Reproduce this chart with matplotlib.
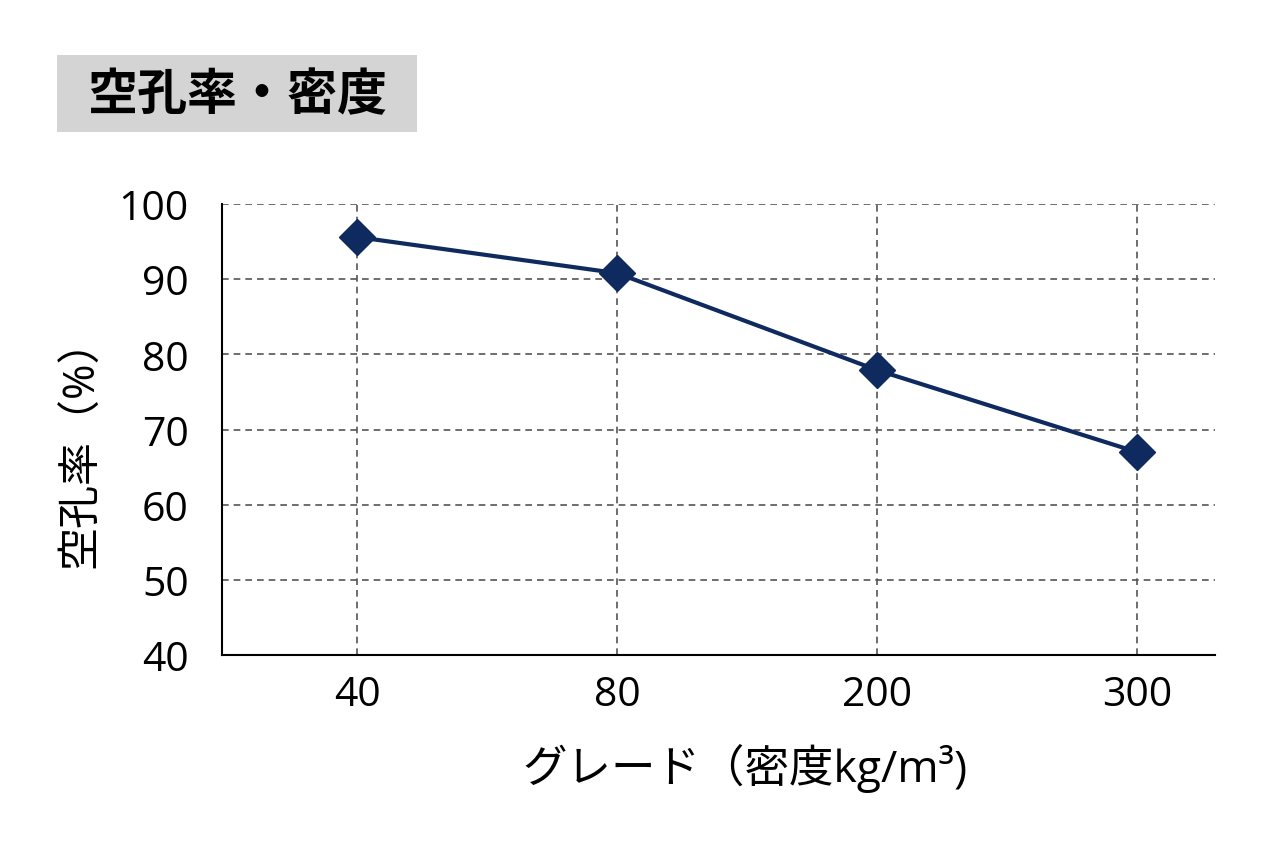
import matplotlib
matplotlib.use("Agg")
import matplotlib.pyplot as plt
from matplotlib.patches import Rectangle

plt.rcParams['font.family'] = ['Open Sans', 'Noto Sans CJK JP', 'DejaVu Sans']

# データ
grades = ['40', '80', '200', '300']
porosity = [95.6, 90.8, 77.9, 67.0]
y_ticks = [40, 50, 60, 70, 80, 90, 100]

navy = '#0f2a5e'
W, H = 1284, 854

fig = plt.figure(figsize=(W / 100, H / 100), dpi=100)
ax = fig.add_axes([222 / W, 1 - 656 / H, (1215 - 222) / W, (656 - 205) / H])

x = list(range(len(grades)))
ax.plot(x, porosity, color=navy, linewidth=3, marker='D', markersize=18,
        markerfacecolor=navy, markeredgecolor=navy, zorder=3, clip_on=False)

ax.set_xlim(-0.52, 3.3)
ax.set_ylim(40, 100)
ax.set_yticks(y_ticks)
ax.set_xticks(x)
ax.set_xticklabels(grades)
ax.tick_params(axis='both', length=0, labelsize=29.5)
ax.tick_params(axis='x', pad=14)
ax.tick_params(axis='y', pad=24)

ax.grid(True, color='#555555', linestyle=(0, (4, 3)), linewidth=1.2)
ax.set_axisbelow(True)
for s in ['top', 'right']:
    ax.spines[s].set_visible(False)
for s in ['left', 'bottom']:
    ax.spines[s].set_color('black')
    ax.spines[s].set_linewidth(1.5)

# 軸ラベル
fig.text(745 / W, 1 - 768 / H, 'グレード（密度kg/m³)', fontsize=32,
         ha='center', va='center')
fig.text(82 / W, 1 - 443 / H, '空孔率（%）', fontsize=31, rotation=90,
         ha='center', va='center')

# タイトルボックス
fig.patches.append(Rectangle((57 / W, 1 - 133 / H), 360 / W, 77 / H,
                             transform=fig.transFigure, facecolor='#d4d4d4',
                             edgecolor='none'))
fig.text(237 / W, 1 - 97 / H, '空孔率・密度', fontsize=36, fontweight='bold',
         ha='center', va='center')

fig.savefig('out.png', dpi=100)
